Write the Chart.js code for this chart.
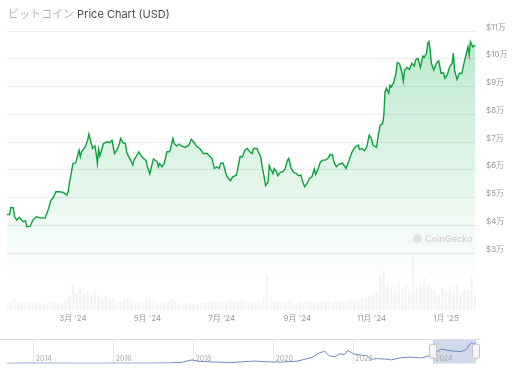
<!DOCTYPE html>
<html>
<head>
<meta charset="utf-8">
<script src="https://cdn.jsdelivr.net/npm/chart.js@4"></script>
<style>
  html, body { margin: 0; padding: 0; background: #fff; }
  #wrap { position: relative; width: 512px; height: 373px; overflow: hidden; font-family: Inter, "Noto Sans CJK JP", sans-serif; }
  canvas { position: absolute; left: 0; }
  #title { position: absolute; left: 8px; top: 5px; font-size: 11px; color: #4a4a4a; white-space: nowrap; }
  #title .ja { color: #b4b4b4; font-family: "Noto Sans CJK JP", sans-serif; }
  #mark { position: absolute; left: 413px; top: 233px; font-size: 9px; color: #d6d6d6; font-weight: 600; white-space: nowrap; }
  #mark .dot { display: inline-block; width: 9px; height: 9px; border-radius: 50%; background: #e2e2e2; margin-right: 3px; vertical-align: -1px; }
</style>
</head>
<body>
<div id="wrap">
  <canvas id="price" width="512" height="373" style="top:0"></canvas>
  <canvas id="nav" width="512" height="40" style="top:333px"></canvas>
  <div id="title"><span class="ja">ビットコイン</span> Price Chart (USD)</div>
  <div id="mark"><span class="dot"></span>CoinGecko</div>
</div>
<script>
"use strict";

// Price, USD (day 0 = 1 Jan 2024)
const priceDays = [
  6, 8, 9, 11, 12, 14, 16, 18, 19, 21,
  22, 25, 27, 28, 30, 33, 36, 37, 40, 42,
  44, 46, 49, 52, 55, 56, 57, 59, 60, 62,
  63, 65, 66, 67, 70, 72, 73, 76, 78, 79,
  80, 81, 82, 85, 88, 90, 92, 94, 96, 98,
  99, 101, 103, 104, 105, 107, 109, 110, 112, 114,
  116, 118, 120, 121, 123, 125, 126, 129, 130, 131,
  133, 135, 137, 139, 140, 142, 143, 145, 147, 149,
  152, 155, 157, 160, 161, 164, 166, 167, 170, 172,
  174, 176, 178, 180, 181, 183, 184, 186, 189, 191,
  194, 195, 197, 199, 201, 203, 205, 207, 208, 211,
  212, 214, 215, 217, 218, 220, 221, 222, 224, 225,
  227, 228, 230, 232, 234, 236, 237, 239, 241, 243,
  245, 247, 248, 250, 252, 254, 256, 258, 259, 261,
  263, 265, 267, 269, 271, 273, 274, 276, 278, 280,
  281, 284, 286, 289, 291, 294, 295, 297, 299, 301,
  303, 305, 306, 309, 310, 312, 314, 315, 316, 317,
  319, 320, 321, 323, 325, 326, 328, 330, 331, 332,
  334, 336, 338, 340, 341, 343, 344, 345, 347, 348,
  350, 351, 352, 353, 354, 356, 358, 360, 362, 364,
  365, 367, 369, 371, 372, 373, 375, 377, 379, 381,
  382, 384, 385, 386, 388, 390
];
const prices = [
  43900, 43900, 46500, 46300, 43100, 41900, 42900, 41900, 41300, 41600,
  39500, 39700, 41900, 42300, 43100, 42700, 42700, 42600, 46100, 49100,
  50100, 52100, 52100, 51900, 50900, 52100, 55100, 59900, 62300, 62500,
  63800, 67100, 64700, 66500, 68300, 70700, 72900, 67700, 68600, 65900,
  62300, 67400, 65000, 69500, 70100, 69800, 70700, 65900, 67100, 69300,
  71300, 69800, 69500, 66500, 65300, 63800, 61700, 63500, 65000, 66500,
  65000, 64100, 63300, 61100, 58500, 62300, 63900, 62900, 61100, 62300,
  61100, 62500, 66500, 66500, 67700, 71300, 69500, 68600, 69300, 68600,
  68100, 68900, 71000, 69500, 68600, 67700, 66500, 65900, 65900, 65000,
  64100, 60500, 61100, 60500, 62300, 62500, 61100, 57800, 56100, 57500,
  58100, 59900, 64700, 64700, 67100, 67700, 66500, 65900, 67700, 67700,
  66500, 64700, 61700, 56900, 54300, 55700, 61500, 60500, 58700, 60500,
  59300, 57900, 59100, 59300, 60300, 63500, 64100, 60500, 59100, 58700,
  57900, 58100, 56300, 53900, 55100, 56900, 57500, 60300, 58400, 60300,
  62900, 63500, 63500, 64100, 65600, 65300, 62900, 61100, 62000, 62300,
  62500, 60500, 62900, 66500, 68100, 68900, 67400, 67700, 66900, 68300,
  72500, 71000, 68900, 68100, 71300, 76100, 76700, 79700, 88100, 89400,
  87600, 90500, 89900, 91400, 94800, 98700, 98100, 94800, 92000, 96000,
  96900, 96200, 98400, 97400, 99600, 100200, 98600, 96900, 101000, 100500,
  102000, 105600, 106200, 103200, 98400, 96000, 98400, 99300, 94800, 95000,
  93000, 94200, 97100, 98400, 102000, 96000, 92600, 94800, 94800, 98900,
  100700, 104300, 101400, 106200, 104300, 105000
];

// Volume, billions USD
const volDays = [
  6, 9, 12, 15, 18, 21, 24, 27, 30, 33, 36, 39, 42, 45, 48, 51, 54, 57, 60, 63,
  66, 69, 72, 75, 78, 81, 84, 87, 90, 93, 96, 99, 102, 105, 108, 111, 114, 117, 120, 123,
  126, 129, 132, 135, 138, 141, 144, 147, 150, 153, 156, 159, 162, 165, 168, 171, 174, 177, 180, 183,
  186, 189, 192, 195, 198, 201, 204, 207, 210, 213, 216, 219, 222, 225, 228, 231, 234, 237, 240, 243,
  246, 249, 252, 255, 258, 261, 264, 267, 270, 273, 276, 279, 282, 285, 288, 291, 294, 297, 300, 303,
  306, 309, 312, 315, 318, 321, 324, 327, 330, 333, 336, 339, 342, 345, 348, 351, 354, 357, 360, 363,
  366, 369, 372, 375, 378, 381, 384, 387, 390
];
const volumes = [
  22, 28, 42, 26, 22, 24, 30, 22, 25, 20, 18, 24, 30, 28, 22, 24, 30, 45, 85, 55,
  72, 58, 62, 52, 66, 48, 40, 45, 32, 38, 30, 28, 35, 40, 30, 26, 28, 22, 30, 36,
  26, 20, 24, 28, 30, 35, 26, 20, 18, 22, 24, 20, 18, 25, 22, 24, 30, 28, 32, 26,
  30, 35, 28, 30, 36, 32, 28, 24, 26, 30, 45, 115, 45, 32, 28, 24, 30, 35, 28, 22,
  30, 26, 32, 28, 24, 26, 30, 28, 32, 26, 30, 28, 32, 30, 38, 34, 30, 36, 40, 48,
  55, 62, 120, 135, 95, 80, 70, 95, 75, 85, 70, 185, 80, 95, 110, 85, 70, 65, 55, 75,
  60, 80, 65, 90, 55, 70, 70, 110, 55
];

const priceTicks = [30000, 40000, 50000, 60000, 70000, 80000, 90000, 100000, 110000];
const monthTicks = [60, 121, 182, 244, 305, 366];
const monthLabels = ["3月 '24", "5月 '24", "7月 '24", "9月 '24", "11月 '24", "1月 '25"];

// Navigator overview (year, USD)
const navYears = [
  2013.33, 2013.9, 2014.5, 2015.1, 2015.5, 2016.5, 2017.0, 2017.4, 2017.7, 2017.96,
  2018.1, 2018.5, 2018.95, 2019.5, 2019.9, 2020.2, 2020.6, 2020.97, 2021.1, 2021.28,
  2021.4, 2021.55, 2021.65, 2021.78, 2021.86, 2022.0, 2022.2, 2022.33, 2022.45, 2022.6,
  2022.85, 2022.95, 2023.2, 2023.45, 2023.7, 2023.9, 2024.0, 2024.2, 2024.5, 2024.7,
  2024.84, 2024.9, 2024.96, 2025.0, 2025.07
];
const navPrices = [
  130, 1000, 600, 250, 250, 650, 1000, 2000, 4500, 17000,
  10000, 6500, 3700, 11000, 7300, 6000, 11000, 29000, 47000, 60000,
  37000, 32000, 47000, 43000, 64000, 47000, 40000, 38000, 20000, 23000,
  20000, 16800, 28000, 30500, 26500, 37000, 44000, 70000, 60000, 58000,
  70000, 91000, 100000, 94000, 104000
];
const navYearTicks = [2014, 2016, 2018, 2020, 2022, 2024];
const navRange = [2024.0, 2025.07];

const family = "Inter, 'Noto Sans CJK JP', sans-serif";

new Chart(document.getElementById('price'), {
    type: 'line',
    data: {
        datasets: [
            {
                type: 'line',
                data: priceDays.map((d, i) => ({ x: d, y: prices[i] })),
                borderColor: '#0ba23c',
                borderWidth: 1.4,
                pointRadius: 0,
                tension: 0,
                fill: 'start',
                backgroundColor: (ctx) => {
                    const area = ctx.chart.chartArea;
                    if (!area) return 'rgba(0,168,62,0.15)';
                    const g = ctx.chart.ctx.createLinearGradient(0, area.top + 20, 0, area.bottom - 30);
                    g.addColorStop(0, 'rgba(0,168,62,0.26)');
                    g.addColorStop(1, 'rgba(0,168,62,0)');
                    return g;
                },
                yAxisID: 'y',
                order: 0
            },
            {
                type: 'bar',
                data: volDays.map((d, i) => ({ x: d, y: volumes[i] })),
                backgroundColor: 'rgba(0,0,0,0.045)',
                barThickness: 2,
                yAxisID: 'yv',
                order: 1
            }
        ]
    },
    options: {
        responsive: false,
        animation: false,
        events: [],
        layout: { padding: { left: 7, right: 0, top: 20, bottom: 45 } },
        plugins: { legend: { display: false }, tooltip: { enabled: false } },
        scales: {
            x: {
                type: 'linear',
                min: 5.86,
                max: 390.6,
                offset: false,
                grid: { display: false, drawTicks: false },
                border: { display: false },
                afterBuildTicks: (s) => { s.ticks = monthTicks.map(v => ({ value: v })); },
                afterFit: (s) => { s.height = 18; },
                ticks: {
                    padding: 4,
                    color: '#9a9a9a',
                    font: { size: 8, family: family },
                    maxRotation: 0,
                    autoSkip: false,
                    callback: (v) => monthLabels[monthTicks.indexOf(v)]
                }
            },
            y: {
                position: 'right',
                min: 9500,
                max: 114000,
                grid: { color: '#ececec', drawTicks: false },
                border: { display: false },
                afterBuildTicks: (s) => { s.ticks = priceTicks.map(v => ({ value: v })); },
                afterFit: (s) => { s.width = 36; },
                ticks: {
                    padding: 10,
                    labelOffset: -4,
                    color: '#9a9a9a',
                    font: { size: 8, family: family },
                    callback: (v) => '$' + (v / 10000) + '万'
                }
            },
            yv: { display: false, min: 0, max: 1000 }
        }
    }
});

// Shaded selection, handles and year labels for the navigator
const navMask = {
    id: 'navMask',
    beforeDatasetsDraw(chart) {
        const { ctx, chartArea: a, scales: { x } } = chart;
        const x0 = x.getPixelForValue(navRange[0]);
        const x1 = x.getPixelForValue(navRange[1]);
        ctx.save();
        ctx.fillStyle = 'rgba(102,133,194,0.3)';
        ctx.fillRect(x0, a.top, x1 - x0, a.bottom - a.top);
        ctx.restore();
    },
    afterDraw(chart) {
        const { ctx, chartArea: a, scales: { x } } = chart;
        ctx.save();
        ctx.strokeStyle = '#dedede';
        ctx.lineWidth = 1;
        ctx.beginPath();
        ctx.moveTo(0, a.top + 0.5);
        ctx.lineTo(a.right + 4, a.top + 0.5);
        ctx.stroke();

        ctx.fillStyle = '#a8a8a8';
        ctx.font = '7px ' + family;
        ctx.textAlign = 'left';
        ctx.textBaseline = 'middle';
        navYearTicks.forEach(yr => {
            ctx.fillText(String(yr), x.getPixelForValue(yr) + 2, a.bottom - 5);
        });

        const mid = (a.top + a.bottom) / 2;
        navRange.forEach(v => {
            const px = Math.round(x.getPixelForValue(v));
            ctx.fillStyle = '#f4f4f4';
            ctx.strokeStyle = '#c4c4c4';
            ctx.beginPath();
            ctx.roundRect(px - 3.5, mid - 7, 7, 14, 1.5);
            ctx.fill();
            ctx.stroke();
        });
        ctx.restore();
    }
};

new Chart(document.getElementById('nav'), {
    type: 'line',
    data: {
        datasets: [{
            data: navYears.map((yr, i) => ({ x: yr, y: navPrices[i] })),
            borderColor: '#7088c0',
            borderWidth: 1,
            pointRadius: 0,
            tension: 0,
            fill: false
        }]
    },
    options: {
        responsive: false,
        animation: false,
        events: [],
        layout: { padding: { left: 7, right: 36, top: 6, bottom: 9.5 } },
        plugins: { legend: { display: false }, tooltip: { enabled: false } },
        scales: {
            x: {
                type: 'linear',
                min: 2013.33,
                max: 2025.07,
                grid: { color: '#e8e8e8', drawTicks: false },
                border: { display: false },
                afterBuildTicks: (s) => { s.ticks = navYearTicks.map(v => ({ value: v })); },
                ticks: { display: false }
            },
            y: { display: false, min: -1000, max: 120000 }
        }
    },
    plugins: [navMask]
});
</script>
</body>
</html>
